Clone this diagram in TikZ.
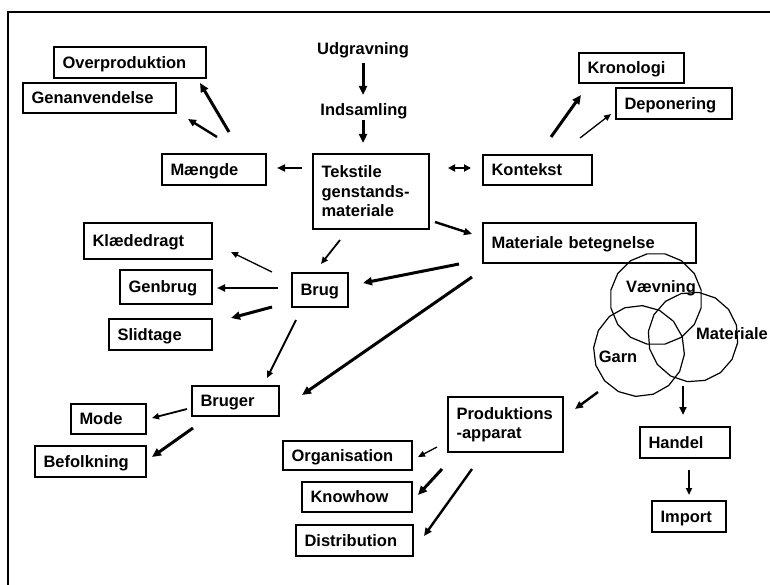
\documentclass[tikz,border=0pt]{standalone}
\usepackage{fontspec}
\setmainfont{Liberation Sans}
\usetikzlibrary{arrows.meta,shapes.geometric}
\tikzset{
  boxbase/.style={draw, line width=1.3pt, inner xsep=8.5pt, inner ysep=0pt, align=left,
    font=\fontsize{16.5}{19.5}\selectfont\bfseries},
  box/.style={boxbase, text height=11.8pt, text depth=0pt},
  lbl/.style={inner sep=0pt, font=\fontsize{16.5}{19.5}\selectfont\bfseries},
  venn/.style={draw, line width=1.2pt, regular polygon, regular polygon sides=16, inner sep=0pt},
  arrA/.style={line width=3pt, -{Triangle[length=9pt,width=8pt]}},
  arrB/.style={line width=2.4pt, -{Triangle[length=8pt,width=7pt]}},
  arrC/.style={line width=1.8pt, -{Triangle[length=7pt,width=6pt]}},
  arrD/.style={line width=1.3pt, -{Triangle[length=7pt,width=6pt]}},
}
\begin{document}
\begin{tikzpicture}[x=1pt,y=-1pt]
\useasboundingbox (0,0) rectangle (770,585);
\fill[white] (0,0) rectangle (770,585);
% frame
\draw[line width=1.8pt] (8,600) -- (8,12) -- (790,12);

% boxes
\node[box, text width=135pt, minimum height=31pt] (over) at (130,62.5) {Overproduktion};
\node[box, text width=136pt, minimum height=30pt] (gen) at (99.5,98) {Genanvendelse};
\node[box, text width=87pt, minimum height=31pt] (maengde) at (214,169.5) {Mængde};
\node[boxbase, text width=99pt, minimum height=75pt] (tekst) at (371,191.5) {Tekstile\\genstands-\\materiale};
\node[box, text width=92pt, minimum height=30pt] (kontekst) at (537.5,170) {Kontekst};
\node[box, text width=88pt, minimum height=30pt] (krono) at (631.5,68) {Kronologi};
\node[box, text width=99pt, minimum height=31pt] (depon) at (674,103.5) {Deponering};
\node[box, text width=196pt, minimum height=40pt] (matbet) at (589.5,243) {Materiale betegnelse};
\node[box, text width=111pt, minimum height=36pt] (klaede) at (148,241) {Klædedragt};
\node[box, text width=75pt, minimum height=34pt] (genbrug) at (166,287) {Genbrug};
\node[box, text width=86pt, minimum height=31pt] (slid) at (160.5,334.5) {Slidtage};
\node[box, text width=39pt, minimum height=34pt] (brug) at (320,290) {Brug};
\node[box, text width=70pt, minimum height=30pt] (bruger) at (235.5,401) {Bruger};
\node[box, text width=58pt, minimum height=30pt] (mode) at (108.5,419) {Mode};
\node[box, text width=94pt, minimum height=31pt] (befolk) at (90.5,461.5) {Befolkning};
\node[box, text width=112pt, minimum height=29pt] (org) at (347.5,455.5) {Organisation};
\node[box, text width=93pt, minimum height=30pt] (know) at (357,497) {Knowhow};
\node[box, text width=100pt, minimum height=31pt] (distr) at (354.5,540.5) {Distribution};
\node[boxbase, text width=98pt, minimum height=55pt] (prod) at (505.5,424.5) {Produktions\\-apparat};
\node[box, text width=73pt, minimum height=31pt] (handel) at (685,442.5) {Handel};
\node[box, text width=57pt, minimum height=31pt] (import) at (689,516.5) {Import};

% plain labels
\node[lbl] (udg) at (363,50) {Udgravning};
\node[lbl] (ind) at (364,111) {Indsamling};

% venn
\node[venn, minimum size=92pt] (vaev) at (656,299) {};
\node[venn, minimum size=91pt, rotate=7] (garn) at (639,351) {};
\node[venn, minimum size=90pt, rotate=4] (mat) at (693,337) {};
\node[lbl] (vaevt) at (661,288) {Vævning};
\node[lbl] (matt) at (732,334) {Materiale};
\node[lbl] (garnt) at (618,357) {Garn};

% connector end points
\coordinate (udg-s) at (363,63);   \coordinate (ind-e) at (363,95);
\coordinate (ind-s) at (363,120);  \coordinate (tekst-e) at (363,143);
\coordinate (tm-s) at (302,168);   \coordinate (maengde-e) at (277,168);
\coordinate (tk-s) at (448,168);   \coordinate (kontekst-e) at (471,168);
\coordinate (mo-s) at (229,132);   \coordinate (over-e) at (200,83);
\coordinate (mg-s) at (217,137);   \coordinate (gen-e) at (188,119);
\coordinate (kk-s) at (551,137);   \coordinate (krono-e) at (581,95);
\coordinate (kd-s) at (580,138);   \coordinate (depon-e) at (611,114);
\coordinate (tmb-s) at (435,222);  \coordinate (matbet-e) at (472,234);
\coordinate (tb-s) at (340,240);   \coordinate (brug-e1) at (321,264);
\coordinate (bk-s) at (272,272);   \coordinate (klaede-e) at (231,252);
\coordinate (bg-s) at (278,288);   \coordinate (genbrug-e) at (217,288);
\coordinate (bs-s) at (272,307);   \coordinate (slid-e) at (231,318);
\coordinate (bb-s) at (296,320);   \coordinate (bruger-e1) at (267,378);
\coordinate (mbb-s) at (459,264);  \coordinate (brug-e2) at (363,283);
\coordinate (mbr-s) at (472,277);  \coordinate (bruger-e2) at (302,395);
\coordinate (rm-s) at (187,409);   \coordinate (mode-e) at (152,418);
\coordinate (rb-s) at (193,428);   \coordinate (befolk-e) at (152,457);
\coordinate (po-s) at (437,447);   \coordinate (org-e) at (418,457);
\coordinate (pk-s) at (442,469);   \coordinate (know-e) at (418,495);
\coordinate (pd-s) at (472,469);   \coordinate (distr-e) at (424,536);
\coordinate (vp-s) at (598,392);   \coordinate (prod-e) at (575,409);
\coordinate (vh-s) at (683,386);   \coordinate (handel-e) at (683,415);
\coordinate (hi-s) at (689,470);   \coordinate (import-e) at (689,495);

% connectors
\draw[arrA] (udg-s) -- (ind-e);
\draw[arrA] (ind-s) -- (tekst-e);
\draw[arrB] (tm-s) -- (maengde-e);
\draw[line width=2.4pt, {Triangle[length=7pt,width=7pt]}-{Triangle[length=7pt,width=7pt]}] (tk-s) -- (kontekst-e);
\draw[arrA] (mo-s) -- (over-e);
\draw[arrB] (mg-s) -- (gen-e);
\draw[arrA] (kk-s) -- (krono-e);
\draw[arrD] (kd-s) -- (depon-e);
\draw[arrB] (tmb-s) -- (matbet-e);
\draw[arrC] (tb-s) -- (brug-e1);
\draw[arrD] (bk-s) -- (klaede-e);
\draw[arrB] (bg-s) -- (genbrug-e);
\draw[arrA] (bs-s) -- (slid-e);
\draw[arrC] (bb-s) -- (bruger-e1);
\draw[arrA] (mbb-s) -- (brug-e2);
\draw[arrA] (mbr-s) -- (bruger-e2);
\draw[arrC] (rm-s) -- (mode-e);
\draw[arrA] (rb-s) -- (befolk-e);
\draw[arrD] (po-s) -- (org-e);
\draw[arrA] (pk-s) -- (know-e);
\draw[arrB] (pd-s) -- (distr-e);
\draw[arrB] (vp-s) -- (prod-e);
\draw[arrB] (vh-s) -- (handel-e);
\draw[arrC] (hi-s) -- (import-e);
\end{tikzpicture}
\end{document}
